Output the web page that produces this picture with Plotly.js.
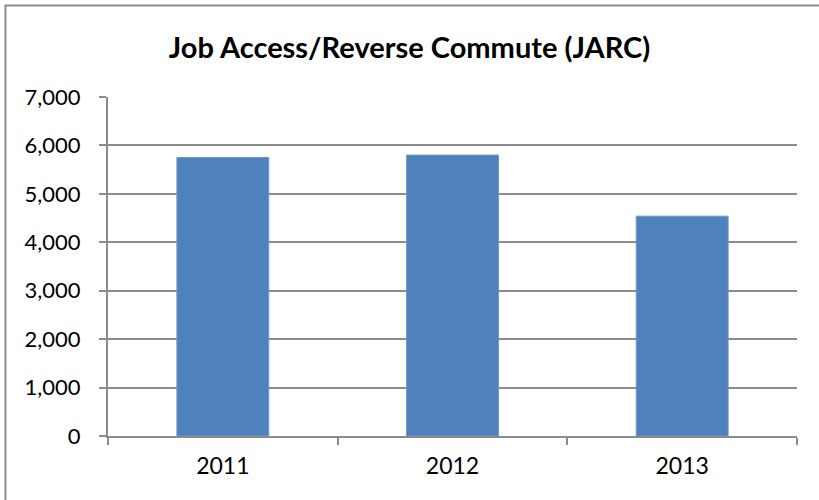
<!DOCTYPE html>
<html>
<head>
<meta charset="utf-8">
<script src="https://cdn.plot.ly/plotly-3.0.1.min.js"></script>
<style>
  html, body { margin: 0; padding: 0; background: #ffffff; }
  #chart { width: 819px; height: 500px; }
</style>
</head>
<body>
<div id="chart"></div>
<script>
// JARC figures by year
const years = ['2011', '2012', '2013'];
const values = [5750, 5800, 4540];
const yTicks = [0, 1000, 2000, 3000, 4000, 5000, 6000, 7000];
const chartTitle = 'Job Access/Reverse Commute (JARC)';

const font = 'Lato, "Open Sans", sans-serif';
const gridColor = '#8c8c8c';

const trace = {
  type: 'bar',
  x: years,
  y: values,
  marker: { color: '#4F81BD', line: { color: '#6f98cc', width: 1 } },
  hoverinfo: 'x+y'
};

const layout = {
  width: 819,
  height: 500,
  paper_bgcolor: '#ffffff',
  plot_bgcolor: '#ffffff',
  margin: { l: 108, r: 22, t: 97, b: 64, pad: 0 },
  bargap: 0.6,
  showlegend: false,
  title: {
    text: '<b>' + chartTitle + '</b>',
    font: { family: font, size: 29, color: '#000000' },
    x: 0.5, xanchor: 'center',
    y: 0.905, yanchor: 'middle'
  },
  xaxis: {
    type: 'category',
    tickson: 'boundaries',
    ticks: 'outside',
    ticklen: 7,
    tickwidth: 2,
    tickcolor: gridColor,
    showline: true,
    linecolor: gridColor,
    linewidth: 2,
    showgrid: false,
    ticklabelstandoff: 8,
    tickfont: { family: font, size: 23, color: '#000000' },
    fixedrange: true
  },
  yaxis: {
    range: [0, 7000],
    tickvals: yTicks,
    tickformat: ',d',
    ticks: 'outside',
    ticklen: 7,
    tickwidth: 2,
    tickcolor: gridColor,
    showline: true,
    linecolor: gridColor,
    linewidth: 2,
    showgrid: true,
    gridcolor: gridColor,
    gridwidth: 2,
    zeroline: false,
    ticklabelstandoff: 14,
    tickfont: { family: font, size: 22, color: '#000000' },
    fixedrange: true
  },
  shapes: [{
    // outer chart frame, running off the right and bottom edges
    type: 'rect',
    xref: 'paper', yref: 'paper',
    x0: -0.1488, x1: 1.1,
    y0: -0.25, y1: 1.2699,
    line: { color: '#8a8a8a', width: 2 },
    fillcolor: 'rgba(0,0,0,0)',
    layer: 'above'
  }]
};

Plotly.newPlot('chart', [trace], layout, { displayModeBar: false, staticPlot: true });
</script>
</body>
</html>
